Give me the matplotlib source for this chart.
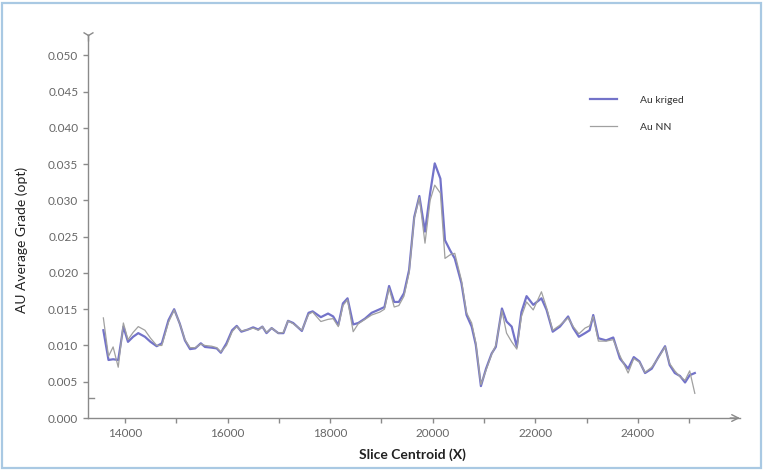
import matplotlib
matplotlib.use("Agg")
import matplotlib.pyplot as plt
from matplotlib.patches import Rectangle
from matplotlib.ticker import MultipleLocator, FuncFormatter

plt.rcParams['font.family'] = ['Lato', 'DejaVu Sans']

# slice centroid positions and the two grade series
x_centroid = [13580, 13680, 13770, 13870, 13970, 14060, 14160, 14260, 14390, 14500,
              14620, 14720, 14850, 14960, 15070, 15170, 15270, 15370, 15480, 15560,
              15690, 15790, 15870, 15980, 16090, 16180, 16270, 16400, 16500, 16600,
              16680, 16760, 16860, 16990, 17090, 17180, 17280, 17450, 17580, 17660,
              17820, 17960, 18060, 18160, 18250, 18340, 18450, 18550, 18680, 18810,
              18970, 19060, 19150, 19250, 19340, 19440, 19540, 19640, 19740, 19850,
              19950, 20040, 20150, 20240, 20340, 20430, 20560, 20660, 20760, 20840,
              20940, 21040, 21150, 21230, 21350, 21440, 21540, 21640, 21730, 21830,
              21960, 22120, 22220, 22340, 22480, 22640, 22740, 22850, 22970, 23060,
              23130, 23230, 23380, 23520, 23650, 23810, 23920, 24030, 24140, 24270,
              24400, 24530, 24620, 24720, 24820, 24920, 25010, 25110]

au_kriged = [0.0121, 0.0080, 0.0081, 0.0080, 0.0126, 0.0105, 0.0112, 0.0117, 0.0112, 0.0105,
             0.0099, 0.0103, 0.0135, 0.0150, 0.0130, 0.0107, 0.0095, 0.0096, 0.0103, 0.0098,
             0.0097, 0.0096, 0.0090, 0.0103, 0.0121, 0.0127, 0.0119, 0.0122, 0.0125, 0.0122,
             0.0126, 0.0117, 0.0124, 0.0117, 0.0117, 0.0134, 0.0131, 0.0120, 0.0145, 0.0147,
             0.0139, 0.0144, 0.0140, 0.0128, 0.0158, 0.0165, 0.0129, 0.0131, 0.0137, 0.0145,
             0.0150, 0.0153, 0.0182, 0.0160, 0.0160, 0.0172, 0.0204, 0.0277, 0.0306, 0.0257,
             0.0310, 0.0351, 0.0330, 0.0245, 0.0231, 0.0220, 0.0186, 0.0142, 0.0126, 0.0101,
             0.0044, 0.0068, 0.0089, 0.0098, 0.0151, 0.0133, 0.0126, 0.0098, 0.0146, 0.0168,
             0.0156, 0.0165, 0.0149, 0.0119, 0.0126, 0.0140, 0.0124, 0.0112, 0.0117, 0.0121,
             0.0142, 0.0110, 0.0107, 0.0111, 0.0082, 0.0068, 0.0084, 0.0078, 0.0062, 0.0068,
             0.0084, 0.0099, 0.0073, 0.0062, 0.0058, 0.0049, 0.0059, 0.0062]

au_nn = [0.0138, 0.0085, 0.0098, 0.0070, 0.0131, 0.0108, 0.0118, 0.0126, 0.0121, 0.0110,
         0.0100, 0.0100, 0.0132, 0.0149, 0.0130, 0.0108, 0.0097, 0.0097, 0.0102, 0.0100,
         0.0099, 0.0097, 0.0091, 0.0100, 0.0119, 0.0126, 0.0120, 0.0122, 0.0124, 0.0121,
         0.0126, 0.0118, 0.0124, 0.0117, 0.0118, 0.0134, 0.0130, 0.0121, 0.0143, 0.0146,
         0.0133, 0.0136, 0.0137, 0.0126, 0.0155, 0.0163, 0.0119, 0.0130, 0.0136, 0.0142,
         0.0146, 0.0150, 0.0179, 0.0153, 0.0155, 0.0168, 0.0200, 0.0275, 0.0304, 0.0241,
         0.0300, 0.0321, 0.0310, 0.0220, 0.0225, 0.0227, 0.0190, 0.0145, 0.0131, 0.0104,
         0.0046, 0.0066, 0.0088, 0.0100, 0.0148, 0.0117, 0.0105, 0.0095, 0.0140, 0.0160,
         0.0149, 0.0174, 0.0152, 0.0121, 0.0128, 0.0138, 0.0126, 0.0116, 0.0124, 0.0127,
         0.0140, 0.0106, 0.0106, 0.0108, 0.0086, 0.0062, 0.0082, 0.0077, 0.0063, 0.0070,
         0.0083, 0.0098, 0.0075, 0.0065, 0.0057, 0.0052, 0.0065, 0.0034]

stray_mark = 0.0028   # the little dash sitting on the y axis in the original

axis_col = '#8a8a8a'
tick_col = '#676767'

fig = plt.figure(figsize=(7.63, 4.70), dpi=100)
fig.patches.append(Rectangle((0.003, 0.004), 0.994, 0.99, transform=fig.transFigure,
                             fill=False, edgecolor='#a9c9e3', lw=1.6))
ax = fig.add_axes([0.1153, 0.1106, 0.8545, 0.815])

ax.plot(x_centroid, au_kriged, color='#7373c9', lw=1.6, label='Au kriged', zorder=3)
ax.plot(x_centroid, au_nn, color='#a0a0a0', lw=0.9, label='Au NN', zorder=4)

ax.set_xlim(13280, 25990)
ax.set_ylim(0, 0.0528)

for s in ['top', 'right']:
    ax.spines[s].set_visible(False)
for s in ['left', 'bottom']:
    ax.spines[s].set_color(axis_col)
    ax.spines[s].set_linewidth(1.0)

ax.yaxis.set_major_locator(MultipleLocator(0.005))
ax.yaxis.set_major_formatter(FuncFormatter(lambda v, p: '%.3f' % v))
ax.xaxis.set_major_locator(MultipleLocator(1000))
ax.xaxis.set_major_formatter(FuncFormatter(lambda v, p: '%d' % v if int(round(v)) % 2000 == 0 else ''))
ax.tick_params(axis='both', colors=axis_col, labelcolor=tick_col, labelsize=8.5,
               length=3.5, width=1.0)
ax.tick_params(axis='x', pad=4)

# arrow heads at the axis ends
ax.plot([0], [1], marker='1', markersize=9, color=axis_col, transform=ax.transAxes,
        clip_on=False, mew=1.0)
ax.annotate('', xy=(1.0, 0), xytext=(0.985, 0), xycoords='axes fraction',
            arrowprops=dict(arrowstyle='->', color=axis_col, lw=1.0, mutation_scale=12,
                            shrinkA=0, shrinkB=0), annotation_clip=False)
ax.axhline(stray_mark, xmin=0, xmax=0.009, color=axis_col, lw=1.0)

ax.set_ylabel('AU Average Grade (opt)', fontsize=10, color='#222222')
ax.yaxis.set_label_coords(-0.092, 0.465)
ax.set_xlabel('Slice Centroid (X)', fontsize=10, fontweight='bold', color='#222222')
ax.xaxis.set_label_coords(0.498, -0.08)

leg = ax.legend(loc='upper left', bbox_to_anchor=(0.77, 0.842), frameon=False,
                fontsize=7.5, handlelength=2.6, handletextpad=2.2, labelspacing=1.7,
                borderaxespad=0, borderpad=0)
for t in leg.get_texts():
    t.set_color('#333333')

fig.savefig('out.png', dpi=100)
